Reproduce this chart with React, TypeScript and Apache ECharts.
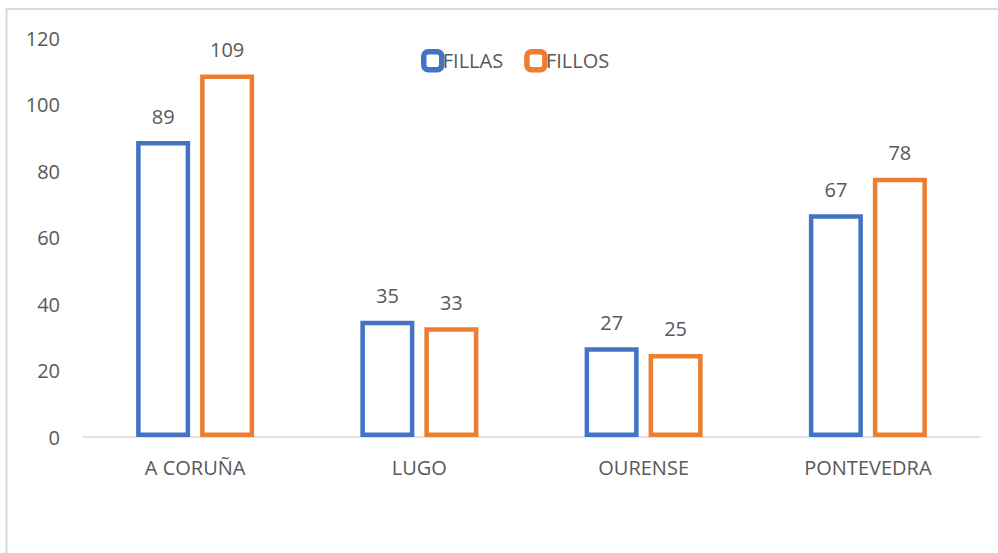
import React, { useEffect, useRef } from "react";
import * as echarts from "echarts";

const categories = ["A CORUÑA", "LUGO", "OURENSE", "PONTEVEDRA"];
const fillas = [89, 35, 27, 67];
const fillos = [109, 33, 25, 78];
const seriesNames = ["FILLAS", "FILLOS"];
const colors = ["#4472C4", "#ED7D31"];

const FONT = "'Open Sans', sans-serif";
const TEXT = "#595959";

export default function App() {
  const ref = useRef<HTMLDivElement>(null);
  useEffect(() => {
    if (!ref.current) return;
    const chart = echarts.init(ref.current, null, { renderer: "svg" });
    const mk = (name: string, data: number[], color: string) => ({
      name,
      type: "bar",
      data,
      barWidth: 54,
      barGap: "18.5%",
      itemStyle: { color: "#ffffff", borderColor: color, borderWidth: 4.5 },
      label: {
        show: true,
        position: "top",
        distance: 15,
        color: TEXT,
        fontFamily: FONT,
        fontSize: 20,
      },
    });
    chart.setOption({
      animation: false,
      backgroundColor: "#ffffff",
      graphic: [
        {
          type: "rect",
          shape: { x: 6.5, y: 9, width: 1200, height: 1000 },
          style: { fill: "none", stroke: "#d9d9d9", lineWidth: 2 },
          silent: true,
        },
      ],
      legend: {
        data: seriesNames.map((n, i) => ({
          name: n,
          itemStyle: { color: "#ffffff", borderColor: colors[i], borderWidth: 5.5 },
        })),
        left: 421,
        top: 49,
        padding: 0,
        itemWidth: 18,
        itemHeight: 18,
        itemGap: 21,
        icon: "roundRect",
        textStyle: { color: TEXT, fontFamily: FONT, fontSize: 20, padding: [0, 0, 0, -4] },
      },
      grid: { left: 83, right: 18, top: 38, bottom: 116 },
      xAxis: {
        type: "category",
        data: categories,
        axisLine: { lineStyle: { color: "#d9d9d9", width: 1.5 } },
        axisTick: { show: false },
        axisLabel: { color: TEXT, fontFamily: FONT, fontSize: 20, margin: 20 },
      },
      yAxis: {
        type: "value",
        min: 0,
        max: 120,
        interval: 20,
        splitLine: { show: false },
        axisLine: { show: false },
        axisTick: { show: false },
        axisLabel: { color: TEXT, fontFamily: FONT, fontSize: 20, margin: 23 },
      },
      series: [
        mk(seriesNames[0], fillas, colors[0]),
        mk(seriesNames[1], fillos, colors[1]),
      ],
    });
    return () => chart.dispose();
  }, []);
  return (
    <div
      ref={ref}
      style={{ position: "fixed", left: 0, top: 0, width: 998, height: 553 }}
    />
  );
}
